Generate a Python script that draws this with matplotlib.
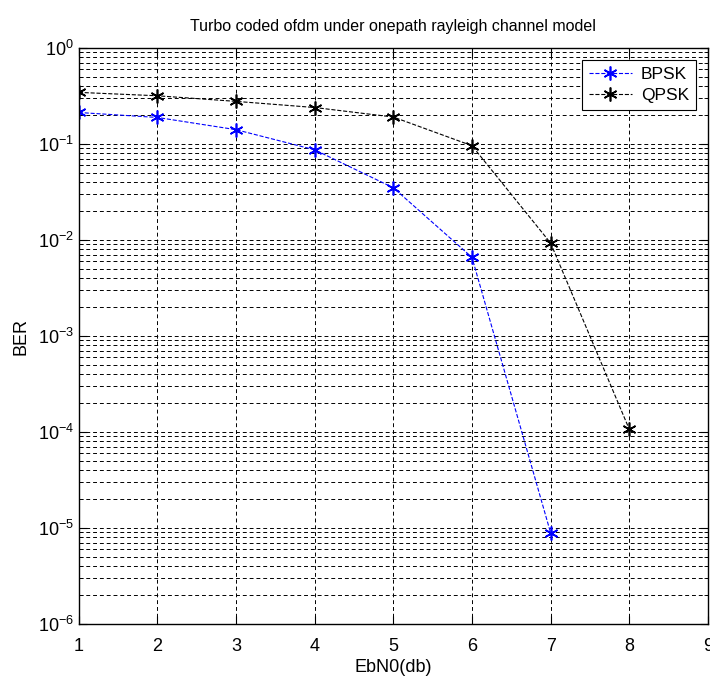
import numpy as np
import matplotlib
matplotlib.use("Agg")
import matplotlib.pyplot as plt

plt.rcParams['font.family'] = ['Liberation Sans', 'DejaVu Sans']
plt.rcParams['mathtext.fontset'] = 'custom'
plt.rcParams['mathtext.rm'] = 'Liberation Sans'

# data
ebn0_bpsk = [1, 2, 3, 4, 5, 6, 7]
ber_bpsk = [0.213, 0.189, 0.141, 0.087, 0.035, 0.0066, 8.9e-6]
ebn0_qpsk = [1, 2, 3, 4, 5, 6, 7, 8]
ber_qpsk = [0.345, 0.318, 0.278, 0.240, 0.191, 0.096, 0.0093, 1.07e-4]
x_ticks = [1, 2, 3, 4, 5, 6, 7, 8, 9]

fig = plt.figure(figsize=(7.1, 6.83), dpi=100)
ax = fig.add_axes([0.111, 0.0864, 0.886, 0.8433])

# matlab '*' marker = asterisk
ast = (6, 2, 0)
ax.semilogy(ebn0_bpsk, ber_bpsk, 'b--', marker=ast, ms=10, mew=1.2, lw=0.8, label='BPSK')
ax.semilogy(ebn0_qpsk, ber_qpsk, 'k--', marker=ast, ms=10, mew=1.2, lw=0.8, label='QPSK')

ax.set_xlim(1, 9)
ax.set_ylim(1e-6, 1)
ax.set_xticks(x_ticks)

# matlab style grid
ax.grid(True, which='major', ls=(0, (4, 3)), color='black', lw=0.7)
ax.grid(True, which='minor', axis='y', ls=(0, (4, 3)), color='black', lw=0.7)
ax.tick_params(which='both', direction='in', top=True, right=True, labelsize=13)
ax.tick_params(axis='x', which='major', pad=10)
ax.tick_params(which='major', length=6)
ax.tick_params(which='minor', length=3)
for s in ax.spines.values():
    s.set_linewidth(1.0)

ax.set_title("Turbo coded ofdm under onepath rayleigh channel model", fontsize=11.5, pad=12)
ax.set_xlabel("EbN0(db)", fontsize=13, labelpad=3)
ax.set_ylabel("BER", fontsize=13, labelpad=6)

leg = ax.legend(loc='upper right', fontsize=12.5, fancybox=False, framealpha=1,
                edgecolor='black', handlelength=2.5, borderaxespad=0.7,
                handletextpad=0.5, borderpad=0.4, labelspacing=0.3)
leg.get_frame().set_linewidth(0.8)

plt.savefig("out.png", dpi=100)
